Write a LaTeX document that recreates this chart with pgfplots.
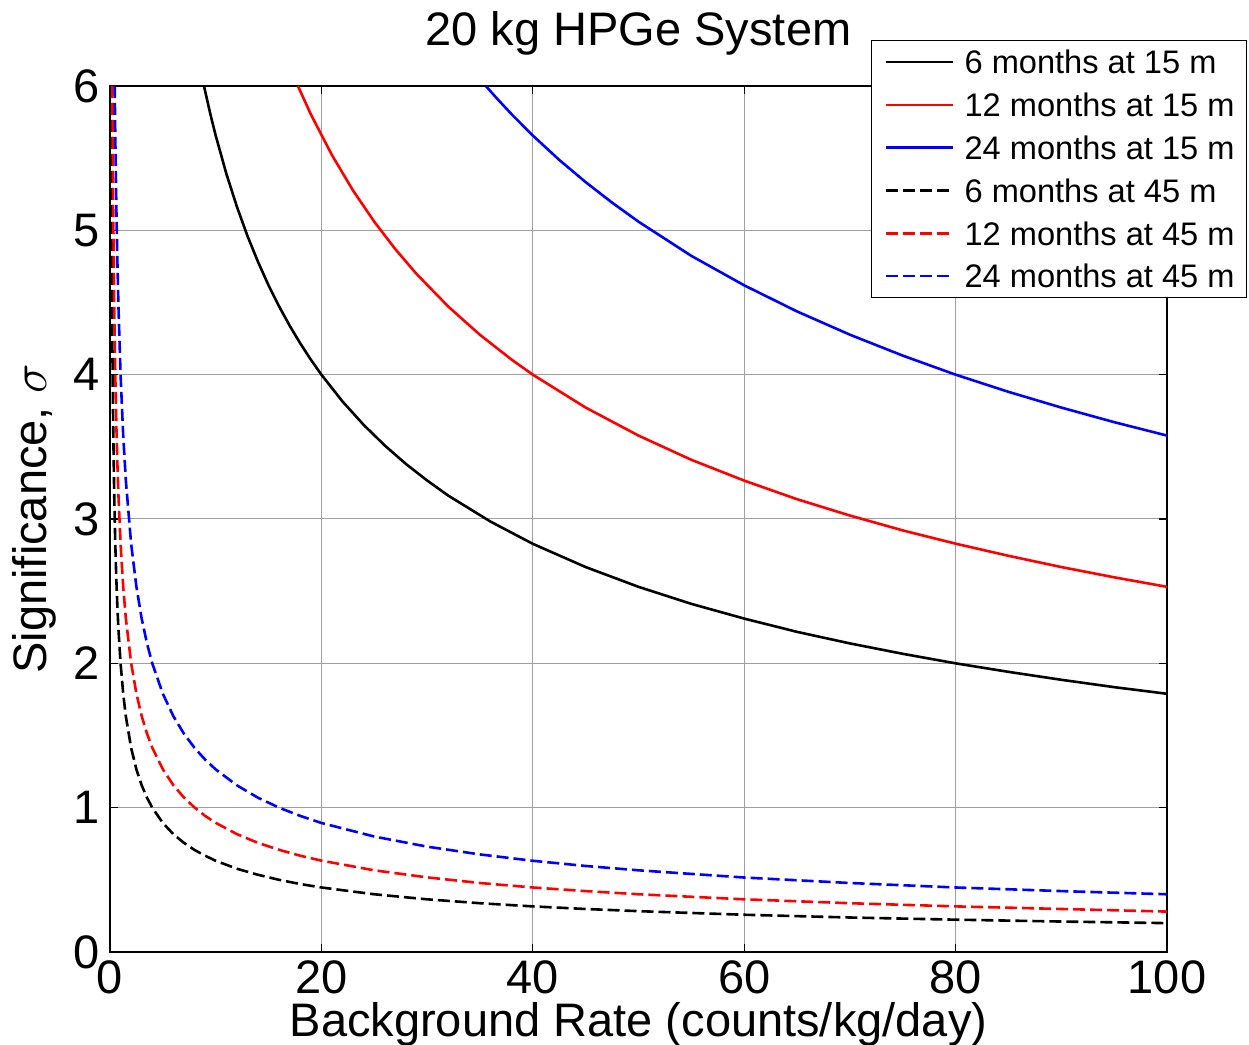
\documentclass[border=0pt]{standalone}
\usepackage{fontspec}
\setmainfont{Liberation Sans}
\usepackage{pgfplots}
\pgfplotsset{compat=1.18}
\newcommand{\bigf}{\fontsize{23.5pt}{28pt}\selectfont}
\begin{document}
\begin{tikzpicture}
\begin{axis}[
  at={(0pt,0pt)}, anchor=south west,
  scale only axis, width=528.5pt, height=433pt,
  xmin=0, xmax=100, ymin=0, ymax=6,
  xtick={0,20,40,60,80,100}, ytick={0,1,2,3,4,5,6},
  grid=major, major grid style={gray!75, line width=0.5pt},
  axis line style={black, line width=1pt},
  tick align=inside, major tick length=4pt, tick style={black, line width=0.6pt},
  /pgf/number format/assume math mode=true,
  xticklabel style={font=\bigf, anchor=north, inner sep=0pt, yshift=-4pt},
  yticklabel style={font=\bigf, anchor=east, inner sep=0pt, xshift=-5pt},
  xlabel={Background Rate (counts/kg/day)},
  xlabel style={font=\bigf, at={(axis description cs:0.5,-0.0970)}, anchor=base, inner sep=0pt},
  ylabel={Significance, $\sigma$},
  ylabel style={font=\bigf, at={(axis description cs:-0.0605,0.5)}, anchor=base, inner sep=0pt},
  legend cell align=left,
  legend style={at={(axis description cs:1.0757,1.0531)}, anchor=north east,
    draw=black, fill=white,
    inner xsep=6pt, inner ysep=5pt,
    font=\fontsize{16.3pt}{19pt}\selectfont,
    nodes={inner sep=0pt, text height=11.7pt, text depth=0pt},
    row sep=9.7pt},
  legend image code/.code={\path (0pt,0pt) (39.5pt,0pt); \draw[#1, line width=1.3pt] (1pt,0pt) -- (34.5pt,0pt);},
  after end axis/.code={\node[font=\bigf, anchor=base, inner sep=0pt] at (axis description cs:0.5,1.0462) {20 kg HPGe System};},
]
% 6 months at 15 m
\addplot[black, line width=1.3pt] coordinates {
(8.89,6.0) (9.5,5.804) (10,5.657) (11,5.394) (12,5.165) (13,4.962) (14,4.782) (15,4.619) (16,4.473) (17,4.339) (18,4.217) (19,4.104) (20,4.0) (22,3.814) (24,3.652) (26,3.509) (28,3.381) (30,3.267) (32,3.162) (36,2.982) (40,2.828) (45,2.667) (50,2.530) (55,2.412) (60,2.310) (65,2.218) (70,2.138) (75,2.066) (80,2.0) (85,1.941) (90,1.886) (95,1.835) (100,1.789)};
\addlegendentry{6 months at 15 m}
% 12 months at 15 m
\addplot[red, line width=1.3pt] coordinates {
(17.78,6.0) (19,5.804) (21,5.521) (23,5.275) (25,5.06) (27,4.869) (29,4.698) (32,4.472) (35,4.276) (38,4.104) (40,4.0) (45,3.772) (50,3.578) (55,3.410) (60,3.266) (65,3.137) (70,3.024) (75,2.921) (80,2.829) (85,2.745) (90,2.667) (95,2.596) (100,2.530)};
\addlegendentry{12 months at 15 m}
% 24 months at 15 m
\addplot[blue, line width=1.3pt] coordinates {
(35.56,6.0) (36.5,5.922) (38,5.804) (40,5.657) (42.5,5.488) (45,5.334) (47.5,5.192) (50,5.060) (55,4.823) (60,4.619) (65,4.438) (70,4.277) (75,4.132) (80,4.0) (85,3.881) (90,3.772) (95,3.671) (100,3.578)};
\addlegendentry{24 months at 15 m}
% 6 months at 45 m
\addplot[black, line width=1.3pt, dash pattern=on 6pt off 2.5pt] coordinates {
(0.111,6.0) (0.15,5.164) (0.2,4.472) (0.25,4.0) (0.3,3.651) (0.4,3.162) (0.5,2.828) (0.6,2.582) (0.7,2.390) (0.8,2.236) (1,2.0) (1.25,1.789) (1.5,1.633) (2,1.414) (2.5,1.265) (3,1.155) (3.5,1.069) (4,1.0) (5,0.894) (6,0.816) (7,0.756) (8,0.707) (9,0.667) (10,0.632) (12,0.577) (14,0.535) (16,0.5) (18,0.471) (20,0.447) (25,0.4) (30,0.365) (35,0.338) (40,0.316) (45,0.298) (50,0.283) (60,0.258) (70,0.239) (80,0.224) (90,0.211) (100,0.2)};
\addlegendentry{6 months at 45 m}
% 12 months at 45 m
\addplot[red, line width=1.3pt, dash pattern=on 6pt off 2.5pt] coordinates {
(0.2225,6.0) (0.25,5.66) (0.3,5.167) (0.4,4.474) (0.5,4.002) (0.6,3.653) (0.7,3.382) (0.8,3.164) (1,2.83) (1.25,2.531) (1.5,2.311) (2,2.001) (2.5,1.790) (3,1.634) (3.5,1.513) (4,1.415) (5,1.266) (6,1.155) (7,1.070) (8,1.001) (9,0.943) (10,0.895) (12,0.817) (14,0.756) (16,0.708) (18,0.667) (20,0.633) (25,0.566) (30,0.517) (35,0.478) (40,0.447) (45,0.422) (50,0.400) (60,0.365) (70,0.338) (80,0.316) (90,0.298) (100,0.280)};
\addlegendentry{12 months at 45 m}
% 24 months at 45 m
\addplot[blue, line width=1.3pt, dash pattern=on 6pt off 2.5pt] coordinates {
(0.444,6.0) (0.5,5.657) (0.6,5.164) (0.7,4.781) (0.8,4.472) (1,4.0) (1.25,3.578) (1.5,3.266) (2,2.828) (2.5,2.530) (3,2.309) (3.5,2.138) (4,2.0) (5,1.789) (6,1.633) (7,1.512) (8,1.414) (9,1.333) (10,1.265) (12,1.155) (14,1.069) (16,1.0) (18,0.943) (20,0.894) (25,0.8) (30,0.730) (35,0.676) (40,0.632) (45,0.596) (50,0.566) (60,0.516) (70,0.478) (80,0.447) (90,0.422) (100,0.4)};
\addlegendentry{24 months at 45 m}
\end{axis}
\pgfresetboundingbox
\useasboundingbox (-55pt,-46.5pt) rectangle (569.5pt,476pt);
\end{tikzpicture}
\end{document}
